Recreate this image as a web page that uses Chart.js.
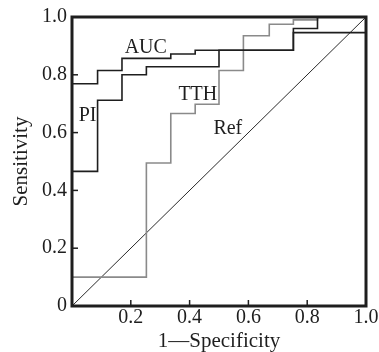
<!DOCTYPE html>
<html>
<head>
<meta charset="utf-8">
<script src="https://cdn.jsdelivr.net/npm/chart.js@4.4.1/dist/chart.umd.min.js"></script>
<style>
html,body{margin:0;padding:0;background:#fff;}
#wrap{width:379px;height:352px;position:relative;}
</style>
</head>
<body>
<div id="wrap"><canvas id="c" width="379" height="352"></canvas></div>
<script>
// ROC step curves: x = 1-Specificity at each step, y = Sensitivity after the step
const aucX = [0, 0.087, 0.17, 0.336, 0.419, 0.753, 0.835, 1.0];
const aucY = [0.769, 0.815, 0.857, 0.872, 0.885, 0.96, 1.0, 1.0];
const piX = [0, 0.087, 0.17, 0.253, 0.50, 0.753, 1.0, 1.0];
const piY = [0.466, 0.712, 0.80, 0.828, 0.885, 0.946, 0.946, 1.0];
const tthX = [0, 0.253, 0.336, 0.419, 0.50, 0.583, 0.671, 0.753, 0.835, 1.0];
const tthY = [0.10, 0.495, 0.666, 0.698, 0.815, 0.935, 0.975, 0.99, 1.0, 1.0];
const refX = [0, 1];
const refY = [0, 1];
const tickValues = [0, 0.2, 0.4, 0.6, 0.8, 1.0];
const curveNames = ['AUC', 'PI', 'TTH', 'Ref'];
const labelX = [0.251, 0.053, 0.428, 0.53];
const labelY = [0.895, 0.66, 0.732, 0.612];

const pts = (xs, ys) => xs.map((x, i) => ({x: x, y: ys[i]}));
const FONT = '"Liberation Serif", "Times New Roman", serif';
const INK = '#1e1e1e';

const framePlugin = {
  id: 'frame',
  afterDatasetsDraw(chart) {
    const ctx = chart.ctx, a = chart.chartArea;
    const xs = chart.scales.x, ys = chart.scales.y;
    ctx.save();
    // curve labels
    ctx.fillStyle = INK;
    ctx.font = '20px ' + FONT;
    ctx.textAlign = 'center';
    ctx.textBaseline = 'middle';
    curveNames.forEach((n, i) => {
      ctx.fillText(n, xs.getPixelForValue(labelX[i]), ys.getPixelForValue(labelY[i]));
    });
    // inward ticks
    ctx.strokeStyle = INK;
    ctx.lineWidth = 1.5;
    tickValues.forEach(v => {
      if (v > 0 && v < 1) {
        const px = xs.getPixelForValue(v);
        ctx.beginPath(); ctx.moveTo(px, a.bottom); ctx.lineTo(px, a.bottom - 6); ctx.stroke();
        const py = ys.getPixelForValue(v);
        ctx.beginPath(); ctx.moveTo(a.left, py); ctx.lineTo(a.left + 6, py); ctx.stroke();
      }
    });
    // frame
    ctx.lineWidth = 3;
    ctx.strokeRect(a.left, a.top, a.right - a.left, a.bottom - a.top);
    ctx.restore();
  }
};

new Chart(document.getElementById('c'), {
  type: 'scatter',
  data: {
    datasets: [
      {label: 'AUC', data: pts(aucX, aucY), showLine: true, stepped: 'before', borderColor: INK, borderWidth: 1.6, pointRadius: 0, fill: false},
      {label: 'PI', data: pts(piX, piY), showLine: true, stepped: 'before', borderColor: INK, borderWidth: 1.6, pointRadius: 0, fill: false},
      {label: 'TTH', data: pts(tthX, tthY), showLine: true, stepped: 'before', borderColor: '#8a8a8a', borderWidth: 1.6, pointRadius: 0, fill: false},
      {label: 'Ref', data: pts(refX, refY), showLine: true, borderColor: '#2a2a2a', borderWidth: 1, pointRadius: 0, fill: false}
    ]
  },
  plugins: [framePlugin],
  options: {
    responsive: false,
    animation: false,
    layout: {padding: {top: 14, right: 13, left: 0, bottom: 0}},
    plugins: {legend: {display: false}, tooltip: {enabled: false}},
    scales: {
      x: {
        type: 'linear', min: 0, max: 1,
        afterFit(s) { s.height = 46; },
        grid: {display: false, drawTicks: false},
        border: {display: false},
        afterBuildTicks(s) { s.ticks = tickValues.map(v => ({value: v})); },
        ticks: {
          color: INK, padding: 0,
          font: {family: FONT, size: 20},
          callback: v => (v === 0 ? '' : v.toFixed(1))
        },
        title: {display: true, text: '1—Specificity', color: INK, font: {family: FONT, size: 21}, padding: {top: 0, bottom: -2}}
      },
      y: {
        type: 'linear', min: 0, max: 1,
        afterFit(s) { s.width = 72; },
        grid: {display: false, drawTicks: false},
        border: {display: false},
        afterBuildTicks(s) { s.ticks = tickValues.map(v => ({value: v})); },
        ticks: {
          color: INK, padding: 5,
          font: {family: FONT, size: 20},
          callback: v => (v === 0 ? '0' : v.toFixed(1))
        },
        title: {display: true, text: 'Sensitivity', color: INK, font: {family: FONT, size: 21}, padding: {top: 9, bottom: 0}}
      }
    }
  }
});
</script>
</body>
</html>
